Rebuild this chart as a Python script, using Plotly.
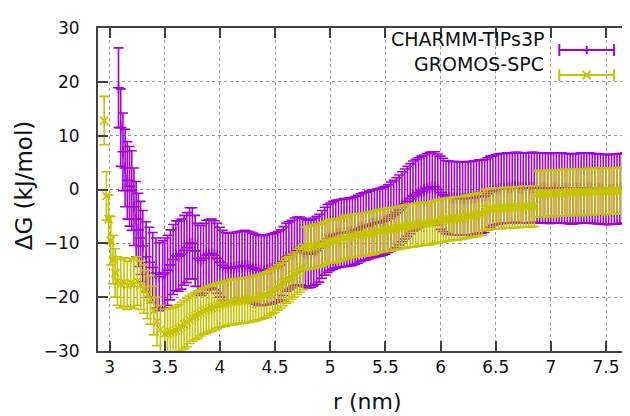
import plotly.graph_objects as go

# ---------------- data ----------------
charmm_r = [3.08, 3.10, 3.12, 3.14, 3.16, 3.18, 3.20, 3.22, 3.24, 3.26, 3.28, 3.30,
            3.33, 3.36, 3.39, 3.42, 3.45, 3.48,
            3.500, 3.525, 3.550, 3.575, 3.600, 3.625, 3.650, 3.675,
            3.700, 3.725, 3.750, 3.775, 3.800, 3.825, 3.850, 3.875,
            3.900, 3.925, 3.950, 3.975, 4.000, 4.025, 4.050, 4.075,
            4.100, 4.125, 4.150, 4.175, 4.200, 4.225, 4.250, 4.275,
            4.300, 4.325, 4.350, 4.375, 4.400, 4.425, 4.450, 4.475,
            4.500, 4.525, 4.550, 4.575, 4.600, 4.625, 4.650, 4.675,
            4.700, 4.725, 4.750, 4.775, 4.800, 4.825, 4.850, 4.875,
            4.900, 4.925, 4.950, 4.975, 5.000, 5.025, 5.050, 5.075,
            5.100, 5.125, 5.150, 5.175, 5.200, 5.225, 5.250, 5.275,
            5.300, 5.325, 5.350, 5.375, 5.400, 5.425, 5.450, 5.475,
            5.500, 5.525, 5.550, 5.575, 5.600, 5.625, 5.650, 5.675,
            5.700, 5.725, 5.750, 5.775, 5.800, 5.825, 5.850, 5.875,
            5.900, 5.925, 5.950, 5.975, 6.000, 6.025, 6.050, 6.075,
            6.100, 6.125, 6.150, 6.175, 6.200, 6.225, 6.250, 6.275,
            6.300, 6.325, 6.350, 6.375, 6.400, 6.425, 6.450, 6.475,
            6.500, 6.525, 6.550, 6.575, 6.600, 6.625, 6.650, 6.675,
            6.700, 6.725, 6.750, 6.775, 6.800, 6.825, 6.850, 6.875,
            6.900, 6.925, 6.950, 6.975, 7.000, 7.025, 7.050, 7.075,
            7.100, 7.125, 7.150, 7.175, 7.200, 7.225, 7.250, 7.275,
            7.300, 7.325, 7.350, 7.375, 7.400, 7.425, 7.450, 7.475,
            7.500, 7.525, 7.550, 7.575, 7.600, 7.625, 7.650, 7.675,
            7.700, 7.725, 7.750, 7.775]
charmm_dg = [18.9, 11.5, 7.0, 4.0, 1.7, 0.6, -0.2, -3.2, -5.5, -7.5, -9.0, -10.5,
             -12.5, -13.5, -14.5, -15.5, -16.2, -15.8,
             -15.5, -15.0, -14.0, -13.0, -12.3, -12.4, -12.0, -11.3,
             -10.8, -10.0, -10.0, -11.4, -12.8, -13.2, -12.8, -12.2,
             -12.0, -11.9, -12.2, -12.8, -13.5, -14.1, -14.5, -14.6,
             -14.6, -14.5, -14.4, -14.3, -14.2, -14.1, -14.2, -14.4,
             -14.6, -14.8, -15.0, -15.1, -15.0, -14.9, -14.8, -14.7,
             -14.5, -14.3, -14.0, -13.3, -12.6, -12.3, -12.0, -11.6,
             -11.4, -11.4, -11.6, -11.8, -12.0, -11.9, -11.6, -11.3,
             -10.9, -10.2, -9.6, -9.1, -8.8, -8.5, -8.3, -8.2,
             -8.1, -8.0, -8.0, -7.9, -7.8, -7.6, -7.4, -7.1,
             -6.9, -6.8, -6.6, -6.4, -6.3, -6.2, -6.1, -5.9,
             -5.7, -5.4, -5.0, -4.7, -4.3, -3.8, -3.2, -2.7,
             -2.2, -1.7, -1.2, -0.9, -0.6, -0.3, -0.1, 0.2,
             0.4, 0.5, 0.5, 0.0, -0.6, -1.0, -1.4, -1.5,
             -1.6, -1.6, -1.6, -1.7, -1.7, -1.7, -1.6, -1.6,
             -1.5, -1.4, -1.3, -1.3, -1.2, -0.8, -0.4, -0.2,
             0.0, 0.1, 0.2, 0.2, 0.3, 0.3, 0.3, 0.4,
             0.4, 0.3, 0.3, 0.3, 0.3, 0.4, 0.4, 0.3,
             0.3, 0.3, 0.3, 0.2, 0.2, 0.3, 0.3, 0.3,
             0.3, 0.2, 0.2, 0.1, 0.1, 0.2, 0.2, 0.3,
             0.3, 0.3, 0.3, 0.2, 0.2, 0.1, 0.1, 0.0,
             0.0, 0.0, 0.0, 0.1, 0.1, 0.2, 0.2, 0.3,
             0.3, 0.3, 0.3, 0.3]
charmm_err = [7.4, 7.2, 7.2, 7.2, 7.2, 7.4, 7.4, 7.2, 7.0, 6.8, 6.8, 6.6,
              6.5, 6.5, 6.5, 6.5, 6.3, 6.3,
              6.5, 6.5, 6.5, 6.5, 6.5, 6.5, 6.5, 6.5,
              6.5, 6.6, 6.6, 6.6, 6.5, 6.5, 6.5, 6.5,
              6.4, 6.4, 6.4, 6.5, 6.5, 6.5, 6.5, 6.5,
              6.5, 6.5, 6.5, 6.5, 6.5, 6.5, 6.5, 6.5,
              6.5, 6.5, 6.5, 6.5, 6.5, 6.5, 6.5, 6.5,
              6.5, 6.5, 6.5, 6.4, 6.3, 6.3, 6.3, 6.3,
              6.3, 6.3, 6.3, 6.3, 6.3, 6.3, 6.3, 6.3,
              6.3, 6.3, 6.3, 6.3, 6.3, 6.3, 6.3, 6.3,
              6.3, 6.3, 6.3, 6.3, 6.3, 6.3, 6.3, 6.3,
              6.3, 6.3, 6.3, 6.3, 6.3, 6.3, 6.3, 6.3,
              6.3, 6.3, 6.4, 6.4, 6.5, 6.5, 6.5, 6.5,
              6.5, 6.5, 6.5, 6.5, 6.5, 6.5, 6.5, 6.5,
              6.5, 6.5, 6.5, 6.6, 6.8, 6.8, 6.8, 6.8,
              6.8, 6.8, 6.8, 6.8, 6.8, 6.8, 6.8, 6.8,
              6.8, 6.8, 6.8, 6.8, 6.8, 6.7, 6.6, 6.5,
              6.5, 6.5, 6.5, 6.5, 6.5, 6.5, 6.5, 6.5,
              6.5, 6.5, 6.5, 6.5, 6.5, 6.5, 6.5, 6.5,
              6.5, 6.5, 6.5, 6.5, 6.5, 6.5, 6.5, 6.5,
              6.5, 6.5, 6.5, 6.5, 6.5, 6.5, 6.5, 6.5,
              6.5, 6.5, 6.5, 6.5, 6.5, 6.5, 6.5, 6.5,
              6.5, 6.5, 6.5, 6.5, 6.5, 6.5, 6.5, 6.5,
              6.5, 6.5, 6.5, 6.5]

gromos_r = [2.95, 2.97, 2.99, 3.01, 3.03, 3.05, 3.07, 3.10, 3.13, 3.16,
            3.19, 3.22, 3.25, 3.28, 3.31, 3.34, 3.37, 3.40, 3.43, 3.46,
            3.500, 3.525, 3.550, 3.575, 3.600, 3.625, 3.650, 3.675,
            3.700, 3.725, 3.750, 3.775, 3.800, 3.825, 3.850, 3.875,
            3.900, 3.925, 3.950, 3.975, 4.000, 4.025, 4.050, 4.075,
            4.100, 4.125, 4.150, 4.175, 4.200, 4.225, 4.250, 4.275,
            4.300, 4.325, 4.350, 4.375, 4.400, 4.425, 4.450, 4.475,
            4.500, 4.525, 4.550, 4.575, 4.600, 4.625, 4.650, 4.675,
            4.700, 4.725, 4.750, 4.775, 4.800, 4.825, 4.850, 4.875,
            4.900, 4.925, 4.950, 4.975, 5.000, 5.025, 5.050, 5.075,
            5.100, 5.125, 5.150, 5.175, 5.200, 5.225, 5.250, 5.275,
            5.300, 5.325, 5.350, 5.375, 5.400, 5.425, 5.450, 5.475,
            5.500, 5.525, 5.550, 5.575, 5.600, 5.625, 5.650, 5.675,
            5.700, 5.725, 5.750, 5.775, 5.800, 5.825, 5.850, 5.875,
            5.900, 5.925, 5.950, 5.975, 6.000, 6.025, 6.050, 6.075,
            6.100, 6.125, 6.150, 6.175, 6.200, 6.225, 6.250, 6.275,
            6.300, 6.325, 6.350, 6.375, 6.400, 6.425, 6.450, 6.475,
            6.500, 6.525, 6.550, 6.575, 6.600, 6.625, 6.650, 6.675,
            6.700, 6.725, 6.750, 6.775, 6.800, 6.825, 6.850, 6.875,
            6.900, 6.925, 6.950, 6.975, 7.000, 7.025, 7.050, 7.075,
            7.100, 7.125, 7.150, 7.175, 7.200, 7.225, 7.250, 7.275,
            7.300, 7.325, 7.350, 7.375, 7.400, 7.425, 7.450, 7.475,
            7.500, 7.525, 7.550, 7.575, 7.600, 7.625, 7.650, 7.675,
            7.700, 7.725, 7.750, 7.775]
gromos_dg = [12.8, -1.2, -5.5, -9.5, -13.0, -15.5, -17.0, -17.5, -17.2, -17.8,
             -17.3, -17.6, -17.0, -17.8, -18.5, -19.5, -20.5, -22.5, -24.5, -26.0,
             -26.8, -26.7, -26.5, -26.4, -26.2, -25.9, -25.5, -25.1,
             -24.7, -24.2, -23.8, -23.5, -23.2, -22.9, -22.6, -22.4,
             -22.2, -22.0, -21.8, -21.6, -21.4, -21.3, -21.2, -21.0,
             -20.9, -20.9, -20.8, -20.7, -20.6, -20.6, -20.5, -20.4,
             -20.3, -20.2, -20.0, -19.9, -19.7, -19.5, -19.2, -18.9,
             -18.6, -18.2, -17.8, -17.4, -16.9, -16.6, -16.2, -15.8,
             -15.3, -14.9, -14.4, -11.0, -10.8, -10.7, -10.6, -10.5,
             -10.4, -10.2, -10.0, -9.7, -9.5, -9.6, -9.6, -9.4,
             -9.2, -9.0, -8.9, -8.7, -8.6, -8.5, -8.5, -8.4,
             -8.4, -8.3, -8.2, -8.1, -8.0, -7.8, -7.7, -7.6,
             -7.5, -7.4, -7.4, -7.3, -7.2, -7.1, -7.0, -6.9,
             -6.8, -6.7, -6.7, -6.6, -6.5, -6.4, -6.4, -6.3,
             -6.3, -6.1, -6.0, -5.9, -5.8, -5.7, -5.6, -5.5,
             -5.5, -5.4, -5.4, -5.3, -5.3, -5.1, -5.0, -4.9,
             -4.8, -4.7, -4.6, -4.5, -3.8, -3.7, -3.6, -3.5,
             -3.5, -3.5, -3.5, -3.4, -3.4, -3.4, -3.4, -3.3,
             -3.3, -3.2, -3.2, -3.2, -3.2, -3.1, -3.1, -0.8,
             -0.8, -0.8, -0.8, -0.7, -0.7, -0.7, -0.7, -0.6,
             -0.6, -0.6, -0.6, -0.5, -0.5, -0.5, -0.5, -0.5,
             -0.5, -0.4, -0.4, -0.4, -0.4, -0.3, -0.3, -0.3,
             -0.4, -0.3, -0.3, -0.3, -0.3, -0.2, -0.2, -0.2,
             -0.3, -0.2, -0.2, -0.2]
gromos_err = [4.5, 4.5, 4.5, 4.5, 4.5, 4.5, 4.5, 4.5, 4.5, 4.5,
              4.5, 4.5, 4.5, 4.5, 4.5, 4.5, 4.5, 4.5, 4.5, 4.5,
              4.5, 4.5, 4.5, 4.5, 4.5, 4.5, 4.5, 4.5,
              4.5, 4.4, 4.4, 4.4, 4.4, 4.3, 4.3, 4.3,
              4.3, 4.3, 4.3, 4.2, 4.2, 4.2, 4.2, 4.2,
              4.2, 4.2, 4.2, 4.2, 4.2, 4.2, 4.2, 4.2,
              4.2, 4.2, 4.2, 4.2, 4.2, 4.2, 4.2, 4.2,
              4.2, 4.2, 4.2, 4.2, 4.2, 4.2, 4.2, 4.2,
              4.2, 4.2, 4.2, 4.0, 4.0, 4.0, 4.0, 4.0,
              4.0, 4.0, 4.0, 4.0, 4.0, 4.0, 4.0, 4.0,
              4.0, 4.0, 4.0, 4.0, 4.0, 4.0, 4.0, 4.0,
              4.0, 4.0, 4.0, 4.0, 4.0, 4.0, 4.0, 4.0,
              4.0, 4.0, 4.0, 4.0, 4.0, 4.0, 4.0, 4.0,
              4.0, 4.0, 4.0, 4.0, 4.0, 4.0, 4.0, 4.0,
              4.0, 4.0, 4.0, 4.0, 4.0, 4.0, 4.0, 4.0,
              4.0, 4.0, 4.0, 4.0, 4.0, 4.0, 4.0, 4.0,
              4.0, 4.0, 4.0, 4.0, 3.8, 3.8, 3.8, 3.8,
              3.8, 3.8, 3.8, 3.8, 3.8, 3.8, 3.8, 3.8,
              3.8, 3.8, 3.8, 3.8, 3.8, 3.8, 3.8, 4.3,
              4.3, 4.3, 4.3, 4.3, 4.3, 4.3, 4.3, 4.3,
              4.3, 4.3, 4.3, 4.3, 4.3, 4.3, 4.3, 4.3,
              4.3, 4.3, 4.3, 4.3, 4.3, 4.3, 4.3, 4.3,
              4.3, 4.3, 4.3, 4.3, 4.3, 4.3, 4.3, 4.3,
              4.3, 4.3, 4.3, 4.3]

series_names = ["CHARMM-TIPs3P", "GROMOS-SPC"]
x_ticks = [3, 3.5, 4, 4.5, 5, 5.5, 6, 6.5, 7, 7.5]
x_tick_labels = ["3", "3.5", "4", "4.5", "5", "5.5", "6", "6.5", "7", "7.5"]
y_ticks = [-30, -20, -10, 0, 10, 20, 30]

# ---------------- style ----------------
PURPLE = "#a400d8"
OLIVE = "#c4c400"
AXIS = "#404040"
FONT = "DejaVu Sans"
W, H = 630, 416
L, R, T, B = 90, 0, 20, 73
PW, PH = W - L - R, H - T - B


def px(xp):
    return (xp - L) / PW


def py(yp):
    return (H - B - yp) / PH


fig = go.Figure()

fig.add_trace(go.Scatter(
    x=charmm_r, y=charmm_dg, mode="markers", name=series_names[0],
    marker=dict(symbol="cross-thin", size=8, color=PURPLE,
                line=dict(color=PURPLE, width=1.6)),
    error_y=dict(type="data", array=charmm_err, visible=True,
                 color=PURPLE, thickness=1.6, width=5),
    showlegend=False, cliponaxis=True))

fig.add_trace(go.Scatter(
    x=gromos_r, y=gromos_dg, mode="markers", name=series_names[1],
    marker=dict(symbol="x-thin", size=8, color=OLIVE,
                line=dict(color=OLIVE, width=1.6)),
    error_y=dict(type="data", array=gromos_err, visible=True,
                 color=OLIVE, thickness=1.6, width=5),
    showlegend=False, cliponaxis=True))

# ---------------- custom gnuplot-like key ----------------
shapes = [dict(type="rect", xref="paper", yref="paper",
               x0=px(376), x1=1.0, y0=py(77), y1=1.0,
               fillcolor="white", line=dict(width=0), layer="between")]
annotations = []
rows = [(series_names[0], PURPLE, 42, "plus"), (series_names[1], OLIVE, 67, "x")]
for name, col, yrow, sym in rows:
    annotations.append(dict(text=name, xref="paper", yref="paper",
                            x=px(540), y=py(yrow - 11), xanchor="right", yanchor="middle",
                            showarrow=False, font=dict(family=FONT, size=19, color="#111111")))
    ln = dict(color=col, width=2)
    shapes.append(dict(type="line", xref="paper", yref="paper",
                       x0=px(553), x1=px(608), y0=py(yrow), y1=py(yrow), line=ln))
    for xe in (553, 608):
        shapes.append(dict(type="line", xref="paper", yref="paper",
                           x0=px(xe), x1=px(xe), y0=py(yrow - 6), y1=py(yrow + 6), line=ln))
    if sym == "plus":
        shapes.append(dict(type="line", xref="paper", yref="paper",
                           x0=px(580.5), x1=px(580.5), y0=py(yrow - 4), y1=py(yrow + 4), line=ln))
    else:
        shapes.append(dict(type="line", xref="paper", yref="paper",
                           x0=px(576.5), x1=px(584.5), y0=py(yrow - 4), y1=py(yrow + 4), line=ln))
        shapes.append(dict(type="line", xref="paper", yref="paper",
                           x0=px(576.5), x1=px(584.5), y0=py(yrow + 4), y1=py(yrow - 4), line=ln))

# axis titles
annotations.append(dict(text="r (nm)", xref="paper", yref="paper",
                        x=px(360), y=py(393), xanchor="center", yanchor="middle",
                        showarrow=False, font=dict(family=FONT, size=22, color="#111111")))
annotations.append(dict(text="ΔG (kJ/mol)", xref="paper", yref="paper",
                        x=px(16), y=py(177), xanchor="center", yanchor="middle",
                        textangle=-90, showarrow=False,
                        font=dict(family=FONT, size=23, color="#111111")))

axis_common = dict(showline=True, linecolor=AXIS, linewidth=2, mirror="ticks",
                   ticks="inside", ticklen=10, tickwidth=1.5, tickcolor=AXIS,
                   showgrid=True, gridcolor="#9a9a9a", griddash="dot", gridwidth=1,
                   zeroline=False, tickfont=dict(family=FONT, size=17, color="#111111"))

fig.update_layout(
    width=W, height=H,
    margin=dict(l=L, r=R, t=T, b=B, pad=0),
    paper_bgcolor="white", plot_bgcolor="white",
    showlegend=False,
    xaxis=dict(range=[2.894, 7.772], tickvals=x_ticks, ticktext=x_tick_labels,
               ticklabelstandoff=0, **axis_common),
    yaxis=dict(range=[-30, 30], tickvals=y_ticks, ticklabelstandoff=13, **axis_common),
    shapes=shapes, annotations=annotations,
)

fig.write_html("out.html")
